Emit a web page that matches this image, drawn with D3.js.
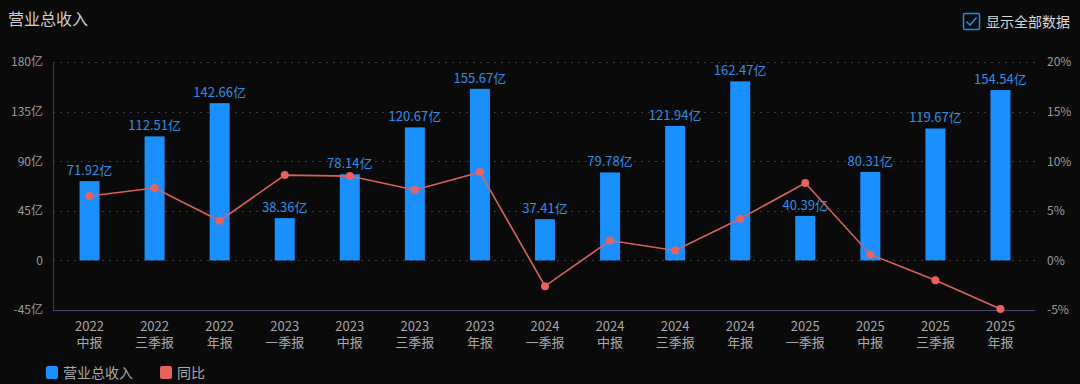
<!DOCTYPE html>
<head>
  <meta charset="utf-8">
  <script src="https://d3js.org/d3.v7.min.js"></script>
  <style>
    body { margin: 0; background: #0a0a0a; }
    text { font-family: "Noto Sans CJK SC", "Noto Sans", sans-serif; }
  </style>
</head>
<body>
  <div id="chart"></div>
</body>
<script>

// data
var years = ["2022", "2022", "2022", "2023", "2023", "2023", "2023",
             "2024", "2024", "2024", "2024", "2025", "2025", "2025", "2025"];
var reports = ["中报", "三季报", "年报", "一季报", "中报", "三季报", "年报",
               "一季报", "中报", "三季报", "年报", "一季报", "中报", "三季报", "年报"];
var revenue = [71.92, 112.51, 142.66, 38.36, 78.14, 120.67, 155.67, 37.41, 79.78, 121.94, 162.47, 40.39, 80.31, 119.67, 154.54];
var yoy = [6.5, 7.3, 4.0, 8.6, 8.5, 7.1, 8.9, -2.6, 2.0, 1.0, 4.2, 7.8, 0.6, -2.0, -4.9];
var leftTicks = [-45, 0, 45, 90, 135, 180];
var rightTicks = [-5, 0, 5, 10, 15, 20];

var W = 1080, H = 384;
var x0 = 57, x1 = 1033, yTop = 62, yBot = 310;

var svg = d3.select("#chart")
  .append("svg")
    .attr("width", W)
    .attr("height", H);

svg.append("rect").attr("width", W).attr("height", H).attr("fill", "#0a0a0a");

var x = d3.scaleBand()
  .domain(d3.range(years.length))
  .range([x0, x1]);

function cx(i) { return x(i) + x.bandwidth() / 2; }

var y = d3.scaleLinear()
  .domain([-45, 180])
  .range([yBot, yTop]);

var y2 = d3.scaleLinear()
  .domain([-5, 20])
  .range([yBot, yTop]);

// title
svg.append("text")
  .attr("x", 8).attr("y", 25)
  .attr("fill", "#cfcfcf")
  .style("font-size", "16px")
  .text("营业总收入");

// checkbox
var cb = svg.append("g").attr("transform", "translate(963,13)");
cb.append("rect")
  .attr("x", 0.5).attr("y", 0.5).attr("width", 16).attr("height", 16)
  .attr("rx", 1.5)
  .attr("fill", "none").attr("stroke", "#1a8fe8").attr("stroke-width", 1.5);
cb.append("path")
  .attr("d", "M3.5,8.5 L7,12 L13.5,4.5")
  .attr("fill", "none").attr("stroke", "#1a8fe8").attr("stroke-width", 1.6);
svg.append("text")
  .attr("x", 986).attr("y", 27)
  .attr("fill", "#d8d8d8")
  .style("font-size", "14px")
  .text("显示全部数据");

// grid lines
svg.append("g")
  .selectAll("line")
  .data(leftTicks.filter(function (d) { return d > -45; }))
  .enter()
  .append("line")
    .attr("x1", 53).attr("x2", 1035)
    .attr("y1", function (d) { return Math.round(y(d)) + 0.5; })
    .attr("y2", function (d) { return Math.round(y(d)) + 0.5; })
    .attr("stroke", "#3a3a3a")
    .attr("stroke-dasharray", "2,5");

// left axis
var axL = svg.append("g")
  .attr("transform", "translate(53,0)")
  .call(d3.axisLeft(y).tickValues(leftTicks).tickSize(0).tickPadding(10)
    .tickFormat(function (d) { return d === 0 ? "0" : d + "亿"; }));
axL.select(".domain").attr("stroke", "#3c3c48");
axL.selectAll("text").attr("fill", "#9a9a9a").style("font-size", "12px");

// right axis
var axR = svg.append("g")
  .attr("transform", "translate(1035,0)")
  .call(d3.axisRight(y2).tickValues(rightTicks).tickSize(0).tickPadding(12)
    .tickFormat(function (d) { return d + "%"; }));
axR.select(".domain").remove();
axR.selectAll("text").attr("fill", "#9a9a9a").style("font-size", "12px");

// bottom axis
svg.append("line")
  .attr("x1", 53).attr("x2", 1035)
  .attr("y1", yBot + 0.5).attr("y2", yBot + 0.5)
  .attr("stroke", "#4a4a66");

svg.append("g")
  .selectAll("text")
  .data(years)
  .enter()
  .append("text")
    .attr("text-anchor", "middle")
    .attr("fill", "#a8a8a8")
    .style("font-size", "13px")
    .attr("x", function (d, i) { return cx(i); })
    .attr("y", 331)
    .text(function (d) { return d; });

svg.append("g")
  .selectAll("text")
  .data(reports)
  .enter()
  .append("text")
    .attr("text-anchor", "middle")
    .attr("fill", "#a8a8a8")
    .style("font-size", "13px")
    .attr("x", function (d, i) { return cx(i); })
    .attr("y", 347)
    .text(function (d) { return d; });

// bars
var bw = 20;
svg.append("g")
  .selectAll("rect")
  .data(revenue)
  .enter()
  .append("rect")
    .attr("x", function (d, i) { return cx(i) - bw / 2; })
    .attr("y", function (d) { return y(d); })
    .attr("width", bw)
    .attr("height", function (d) { return y(0) - y(d); })
    .attr("fill", "#1a90ff");

// bar labels
svg.append("g")
  .selectAll("text")
  .data(revenue)
  .enter()
  .append("text")
    .attr("x", function (d, i) { return cx(i); })
    .attr("y", function (d) { return y(d) - 6; })
    .attr("text-anchor", "middle")
    .attr("fill", "#2a8fe6")
    .style("font-size", "13px")
    .text(function (d) { return d.toFixed(2) + "亿"; });

// yoy line
var line = d3.line()
  .x(function (d, i) { return cx(i); })
  .y(function (d) { return y2(d); });

svg.append("path")
  .datum(yoy)
  .attr("d", line)
  .attr("fill", "none")
  .attr("stroke", "#d9625e")
  .attr("stroke-width", 1.6);

svg.append("g")
  .selectAll("circle")
  .data(yoy)
  .enter()
  .append("circle")
    .attr("cx", function (d, i) { return cx(i); })
    .attr("cy", function (d) { return y2(d); })
    .attr("r", 4)
    .attr("fill", "#e8625f");

// legend
var legend = [{name: "营业总收入", color: "#1a90ff", x: 46}, {name: "同比", color: "#e8625f", x: 160}];
var lg = svg.append("g")
  .selectAll("g")
  .data(legend)
  .enter()
  .append("g")
    .attr("transform", function (d) { return "translate(" + d.x + ",366)"; });
lg.append("rect")
  .attr("width", 12).attr("height", 13).attr("rx", 2)
  .attr("fill", function (d) { return d.color; });
lg.append("text")
  .attr("x", 17).attr("y", 12)
  .attr("fill", "#a8a8a8")
  .style("font-size", "14px")
  .text(function (d) { return d.name; });

</script>
